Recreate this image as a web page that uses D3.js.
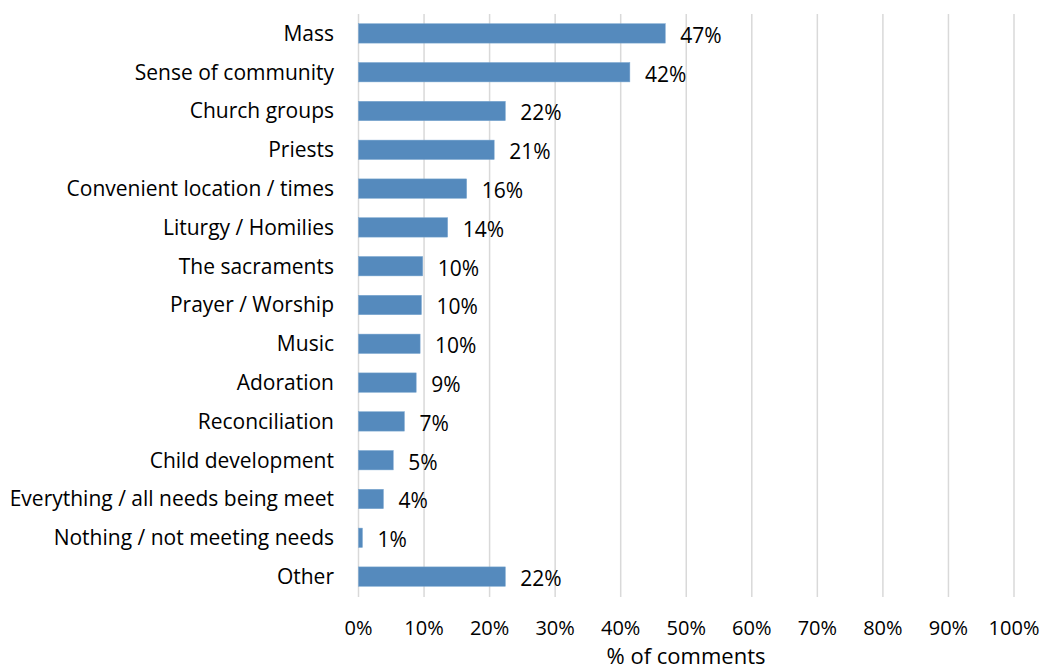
<!DOCTYPE html>
<html><head><meta charset="utf-8">
<script src="https://cdn.jsdelivr.net/npm/d3@7"></script>
<style>body{margin:0;background:#fff}svg{display:block}text{font-family:"Open Sans",sans-serif;fill:#000}</style>
</head><body><svg id="c" width="1042" height="671"></svg>
<script>
const categories = ["Mass","Sense of community","Church groups","Priests","Convenient location / times","Liturgy / Homilies","The sacraments","Prayer / Worship","Music","Adoration","Reconciliation","Child development","Everything / all needs being meet","Nothing / not meeting needs","Other"];
const values = [46.8,41.4,22.4,20.7,16.5,13.6,9.8,9.6,9.4,8.8,7.0,5.3,3.8,0.6,22.4];
const valueLabels = ["47%","42%","22%","21%","16%","14%","10%","10%","10%","9%","7%","5%","4%","1%","22%"];
const tickValues = [0,10,20,30,40,50,60,70,80,90,100];
const axisTitle = "% of comments";

const svg = d3.select("#c");
const x = d3.scaleLinear().domain([0,100]).range([358.5,1014]);
const y = d3.scaleBand().domain(categories).range([14,596]).paddingInner(0.5).paddingOuter(0.25);

svg.append("g").selectAll("line").data(tickValues).join("line")
  .attr("x1",d=>x(d)).attr("x2",d=>x(d)).attr("y1",14).attr("y2",597)
  .attr("stroke","#d9d9d9").attr("stroke-width",1.5);

svg.append("g").selectAll("rect").data(categories).join("rect")
  .attr("x",x(0)).attr("y",d=>y(d)).attr("height",y.bandwidth())
  .attr("width",(d,i)=>x(values[i])-x(0))
  .attr("fill","#558abd").attr("stroke","#7aa6d0").attr("stroke-width",0.5);

svg.append("g").selectAll("text").data(categories).join("text")
  .attr("x",334).attr("y",d=>y(d)+y.bandwidth()/2).attr("dy","0.35em")
  .attr("text-anchor","end").attr("font-size",21).text(d=>d);

svg.append("g").selectAll("text").data(categories).join("text")
  .attr("x",(d,i)=>x(values[i])+15).attr("y",d=>y(d)+y.bandwidth()/2+2).attr("dy","0.35em")
  .attr("font-size",21).text((d,i)=>valueLabels[i]);

svg.append("g").selectAll("text").data(tickValues).join("text")
  .attr("x",d=>x(d)).attr("y",635)
  .attr("text-anchor","middle").attr("font-size",20).text(d=>d+"%");

svg.append("text").attr("x",686).attr("y",664).attr("text-anchor","middle")
  .attr("font-size",22).text(axisTitle);
</script></body></html>
